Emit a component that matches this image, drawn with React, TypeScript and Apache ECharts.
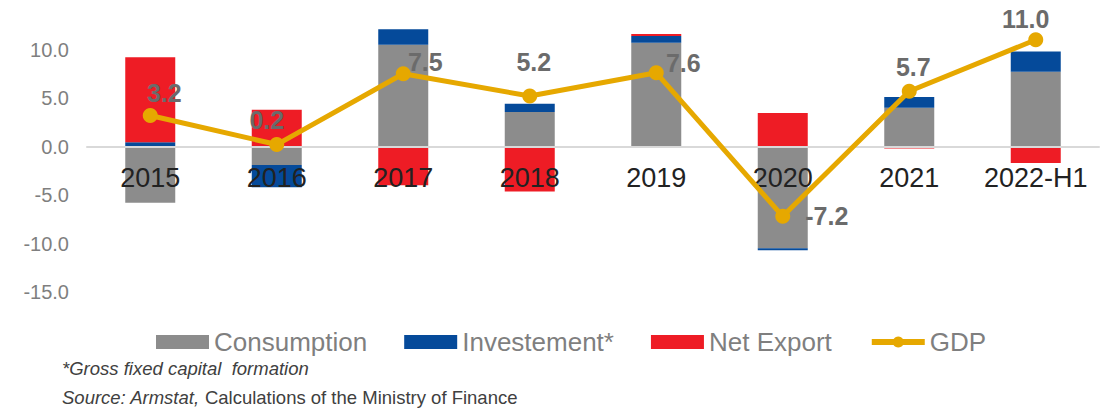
import React, { useEffect, useRef } from "react";
import * as echarts from "echarts";

const categories = ["2015", "2016", "2017", "2018", "2019", "2020", "2021", "2022-H1"];
const consumption = [-5.8, -1.9, 10.5, 3.55, 10.7, -10.5, 4.0, 7.7];
const investment = [0.45, -2.3, 1.6, 0.85, 0.7, -0.2, 1.1, 2.1];
const netExport = [8.75, 3.8, -4.0, -4.65, 0.2, 3.45, -0.2, -1.7];
const gdp = [3.2, 0.2, 7.5, 5.2, 7.6, -7.2, 5.7, 11.0];
const gdpLabelOffsets: [number, number][] = [
  [14, -22],
  [-10, -25],
  [22, -12],
  [4, -34],
  [27, -10],
  [44, 0],
  [4, -24],
  [-10, -21],
];
const yTicks = { min: -15, max: 15, interval: 5 };
const footnote = "*Gross fixed capital  formation";
const sourceNote = "{i|Source: Armstat,} Calculations of the Ministry of Finance";

const FONT = "'Liberation Sans', Arial, sans-serif";

export default function App() {
  const ref = useRef<HTMLDivElement>(null);
  useEffect(() => {
    if (!ref.current) return;
    const chart = echarts.init(ref.current, undefined, { renderer: "svg" });
    const gridTop = 1;
    const gridBottom = 118;
    const plotH = 410 - gridTop - gridBottom;
    const zeroOffset = -plotH * (0 - yTicks.min) / (yTicks.max - yTicks.min);
    chart.setOption({
      animation: false,
      textStyle: { fontFamily: FONT },
      grid: { left: 87, right: 11, top: gridTop, bottom: gridBottom },
      legend: {
        left: 151,
        top: 324,
        itemWidth: 53,
        itemHeight: 14,
        itemGap: 37,
        textStyle: { fontSize: 26, color: "#7f7f7f", fontFamily: FONT },
        data: [
          { name: "Consumption", icon: "rect" },
          { name: "Investement*", icon: "rect" },
          { name: "Net Export", icon: "rect" },
          { name: "GDP", lineStyle: { width: 6, color: "#e6a800" } },
        ],
      },
      xAxis: {
        type: "category",
        data: categories,
        z: 3,
        offset: zeroOffset,
        axisLine: { onZero: false, lineStyle: { color: "#d9d9d9", width: 2 } },
        axisTick: { show: false },
        axisLabel: { fontSize: 27, color: "#222222", margin: 18, fontFamily: FONT, interval: 0 },
        splitLine: { show: false },
      },
      yAxis: {
        type: "value",
        min: yTicks.min,
        max: yTicks.max,
        interval: yTicks.interval,
        axisLine: { show: false },
        axisTick: { show: false },
        splitLine: { show: false },
        axisLabel: {
          fontSize: 20,
          color: "#7f7f7f",
          margin: 18,
          fontFamily: FONT,
          formatter: (v: number) => (v === yTicks.max ? "" : v.toFixed(1)),
        },
      },
      series: [
        {
          name: "Consumption",
          type: "bar",
          stack: "total",
          barWidth: 50,
          z: 1,
          itemStyle: { color: "#8c8c8c" },
          data: consumption,
        },
        {
          name: "Investement*",
          type: "bar",
          stack: "total",
          barWidth: 50,
          z: 1,
          itemStyle: { color: "#054a9a" },
          data: investment,
        },
        {
          name: "Net Export",
          type: "bar",
          stack: "total",
          barWidth: 50,
          z: 1,
          itemStyle: { color: "#ee1c25" },
          data: netExport,
        },
        {
          name: "GDP",
          type: "line",
          z: 5,
          symbol: "circle",
          symbolSize: 15,
          lineStyle: { color: "#e6a800", width: 5 },
          itemStyle: { color: "#e6a800" },
          data: gdp.map((v, i) => ({
            value: v,
            label: {
              show: true,
              position: "inside",
              offset: gdpLabelOffsets[i],
              formatter: (p: any) => Number(p.value).toFixed(1),
              fontSize: 25,
              fontWeight: "bold",
              color: "#6b6b6b",
              fontFamily: FONT,
            },
          })),
        },
      ],
      graphic: [
        {
          type: "text",
          left: 62,
          top: 359,
          style: {
            text: footnote,
            font: `italic 18.5px ${FONT}`,
            fill: "#404040",
          },
        },
        {
          type: "text",
          left: 62,
          top: 388,
          style: {
            text: sourceNote,
            font: `18.5px ${FONT}`,
            fill: "#404040",
            rich: {
              i: { fontStyle: "italic", fontSize: 18.5, fontFamily: FONT, fill: "#404040" },
            },
          },
        },
      ],
    });
    return () => chart.dispose();
  }, []);
  return (
    <div
      ref={ref}
      style={{ position: "fixed", left: 0, top: 0, width: 1110, height: 410, background: "#ffffff" }}
    />
  );
}
